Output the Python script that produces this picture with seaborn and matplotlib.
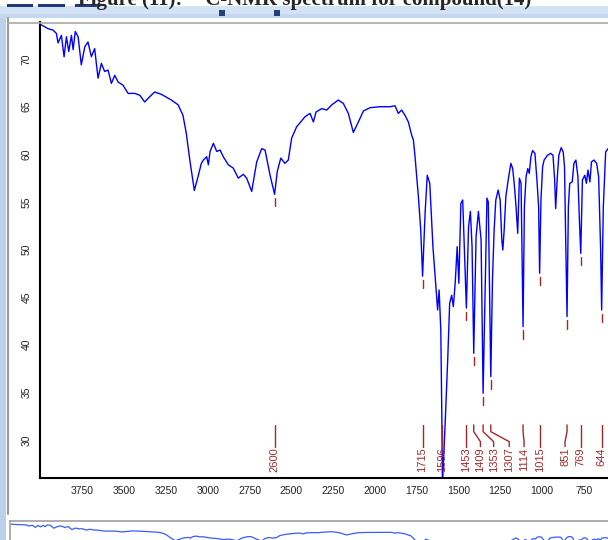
import numpy as np
import pandas as pd
import matplotlib
matplotlib.use('Agg')
import matplotlib.pyplot as plt
import seaborn as sns
from matplotlib.patches import Rectangle
from matplotlib.lines import Line2D

# IR spectrum (wavenumber cm-1, %T)
wavenumber = [3995, 3955, 3925, 3905, 3895, 3875, 3859, 3845, 3831, 3815, 3805, 3792, 3775,
              3756, 3735, 3716, 3696, 3676, 3656, 3636, 3616, 3596, 3576, 3556, 3536, 3506,
              3476, 3436, 3406, 3377, 3347, 3317, 3277, 3217, 3177, 3148, 3128, 3107, 3080,
              3058, 3038, 3026, 3006, 2996, 2986, 2966, 2946, 2926, 2907, 2877, 2847, 2817,
              2787, 2767, 2737, 2707, 2677, 2657, 2627, 2600, 2584, 2563, 2538, 2518, 2498,
              2468, 2418, 2388, 2368, 2352, 2318, 2288, 2258, 2219, 2189, 2159, 2129, 2099,
              2069, 2029, 1969, 1910, 1880, 1860, 1840, 1820, 1800, 1780, 1770, 1760, 1740,
              1726, 1715, 1700, 1687, 1672, 1653, 1634, 1625, 1616, 1606, 1600, 1596, 1579,
              1564, 1553, 1541, 1531, 1520, 1508, 1498, 1486, 1475, 1453, 1440, 1429, 1419,
              1409, 1395, 1381, 1365, 1353, 1330, 1322, 1307, 1297, 1287, 1277, 1263, 1251,
              1241, 1235, 1227, 1217, 1203, 1187, 1176, 1167, 1156, 1146, 1136, 1126, 1114,
              1106, 1096, 1086, 1077, 1067, 1057, 1043, 1031, 1021, 1015, 1007, 997, 988,
              968, 949, 935, 925, 919, 909, 900, 886, 874, 866, 859, 851, 843, 835, 820, 810,
              798, 786, 777, 769, 759, 745, 735, 726, 714, 705, 690, 674, 662, 650, 644, 634,
              620, 606]
transmittance = [73.6, 73.2, 73.05, 72.7, 71.7, 72.5, 70.25, 72.35, 70.8, 72.5, 71.0, 72.9, 72.35,
                 69.4, 71.3, 71.8, 70.25, 71.1, 68.0, 69.55, 68.7, 68.85, 67.45, 68.3, 67.6, 67.25,
                 66.4, 66.4, 66.2, 65.5, 66.05, 66.55, 66.3, 65.7, 65.2, 64.1, 62.2, 59.4, 56.2,
                 57.65, 59.05, 59.4, 59.75, 58.9, 60.3, 61.15, 60.3, 60.45, 59.75, 58.9, 58.55, 57.5,
                 57.9, 57.5, 56.1, 59.2, 60.6, 60.45, 57.8, 55.8, 58.2, 59.6, 59.05, 59.4, 61.7,
                 62.9, 63.95, 64.3, 63.4, 64.45, 64.8, 64.65, 65.2, 65.7, 65.35, 64.3, 62.3, 63.4,
                 64.55, 64.9, 65.0, 65.0, 65.1, 64.3, 64.65, 64.1, 63.4, 62.0, 61.5, 59.75, 55.55,
                 52.05, 47.2, 53.8, 57.8, 56.95, 50.3, 45.75, 43.65, 45.75, 41.55, 32.8, 25.3, 32.1,
                 38.75, 44.35, 45.2, 44.0, 46.45, 50.3, 46.45, 54.85, 55.2, 43.85, 52.4, 54.0, 50.3,
                 39.1, 51.35, 54.0, 51.0, 34.9, 55.4, 55.0, 36.65, 46.8, 52.05, 55.2, 56.25, 55.2,
                 51.0, 49.95, 52.05, 55.55, 57.3, 59.05, 58.5, 56.95, 54.5, 51.7, 57.5, 56.95, 41.9,
                 54.5, 57.65, 58.5, 58.0, 59.75, 60.4, 60.1, 57.3, 54.5, 47.5, 55.2, 58.7, 59.4,
                 59.9, 60.1, 59.9, 57.3, 54.3, 57.65, 59.9, 60.7, 60.25, 58.7, 51.0, 42.95, 54.5, 56.95, 57.1, 59.05,
                 59.4, 57.65, 53.1, 49.6, 57.3, 57.8, 56.95, 58.35, 57.1, 59.2, 59.4, 59.05, 57.65, 49.95, 43.65, 54.5,
                 60.25, 60.6]

# labelled peaks and where their text sits
peak_labels = [2600, 1715, 1596, 1453, 1409, 1353, 1307, 1114, 1015, 851, 769, 644]
label_pos = [2600, 1715, 1596, 1453, 1369, 1290, 1197, 1108, 1015, 863, 769, 644]

x_ticks = [3750, 3500, 3250, 3000, 2750, 2500, 2250, 2000, 1750, 1500, 1250, 1000, 750]
y_ticks = [30, 35, 40, 45, 50, 55, 60, 65, 70]

TITLE = 'Figure (11):  \u00b9\u00b3C-NMR spectrum for compound(14)'
RED = '#a3282d'
BLUE = '#0000ff'

sns.set_style('white')
plt.rcParams['font.family'] = ['Liberation Sans', 'DejaVu Sans']

df = pd.DataFrame({'wn': wavenumber, 't': transmittance})

W, H = 608, 540
fig = plt.figure(figsize=(W / 100, H / 100), dpi=100)
fig.patch.set_facecolor('white')


def fx(px):
    return px / W


def fy(py):
    return 1 - py / H


def box(x0, y0, x1, y1, color):
    fig.add_artist(Rectangle((fx(x0), fy(y1)), fx(x1 - x0), (y1 - y0) / H,
                             transform=fig.transFigure, color=color, lw=0, zorder=0))


def fline(xs, ys, color, lw=1.0):
    fig.add_artist(Line2D([fx(v) for v in xs], [fy(v) for v in ys],
                          transform=fig.transFigure, color=color, lw=lw))


# window chrome (toolbar strip, frame)
box(0, 6, W, 18, '#d3e2f5')
box(0, 14, W, 18, '#c4d7ef')
for a, b in [(7, 33), (38, 65), (75, 100)]:
    box(a, 4.5, b, 7, '#1f3b78')
for a in [219, 274]:
    box(a, 10, a + 6, 16, '#24407a')
box(0, 18, 6, H, '#bcd0ea')
fline([7.5, 7.5], [18, 514], '#9a9a9a', 1.5)
fline([8, W], [22.5, 22.5], '#a8a8a8', 1.2)

fig.text(fx(305), fy(4.5), TITLE, ha='center', va='baseline', fontsize=15,
         fontweight='bold', family=['Liberation Serif', 'DejaVu Serif'], zorder=1)

# main spectrum
ax = fig.add_axes([fx(40), fy(478), fx(W - 40), (478 - 22) / H])
sns.lineplot(data=df, x='wn', y='t', ax=ax, color=BLUE, lw=1.0, sort=False, estimator=None)
ax.set_xlim(4003, 606)
ax.set_ylim(26.0, 73.9)
ax.set_xlabel('')
ax.set_ylabel('')
ax.set_facecolor('white')
ax.set_xticks(x_ticks)
ax.set_xticklabels([str(v) for v in x_ticks], fontsize=7.5, color='#222222')
ax.set_yticks(y_ticks)
ax.set_yticklabels([str(v) for v in y_ticks], fontsize=7.5, color='#222222',
                   rotation=90, va='center')
ax.tick_params(direction='out', length=4, width=1, color='black', pad=2)
for side in ['top', 'right']:
    ax.spines[side].set_visible(False)
for side in ['left', 'bottom']:
    ax.spines[side].set_color('black')
    ax.spines[side].set_linewidth(1.5)

wn_asc = np.array(wavenumber[::-1])
t_asc = np.array(transmittance[::-1])
for p, q in zip(peak_labels, label_pos):
    tmin = np.interp(p, wn_asc, t_asc)
    ax.plot([p, p], [tmin - 0.4, tmin - 1.25], color=RED, lw=1)
    ax.plot([p, p, q, q], [31.58, 30.87, 29.82, 29.3], color=RED, lw=1)
    ax.text(q, 29.2, str(p), rotation=90, ha='center', va='top', color=RED, fontsize=8)

# overview strip at the bottom
ov = fig.add_axes([fx(10), 0, fx(W - 10), 19 / H])
sns.lineplot(data=df, x='wn', y='t', ax=ov, color='#3a5cff', lw=0.9, sort=False, estimator=None)
ov.set_xlim(4000, 672)
ov.set_ylim(57, 77)
ov.set_xticks([])
ov.set_yticks([])
ov.set_xlabel('')
ov.set_ylabel('')
for side in ['bottom', 'right']:
    ov.spines[side].set_visible(False)
for side in ['top', 'left']:
    ov.spines[side].set_color('#a0a0a0')
    ov.spines[side].set_linewidth(1.2)

fig.savefig('out.png', dpi=100)
plt.close(fig)
